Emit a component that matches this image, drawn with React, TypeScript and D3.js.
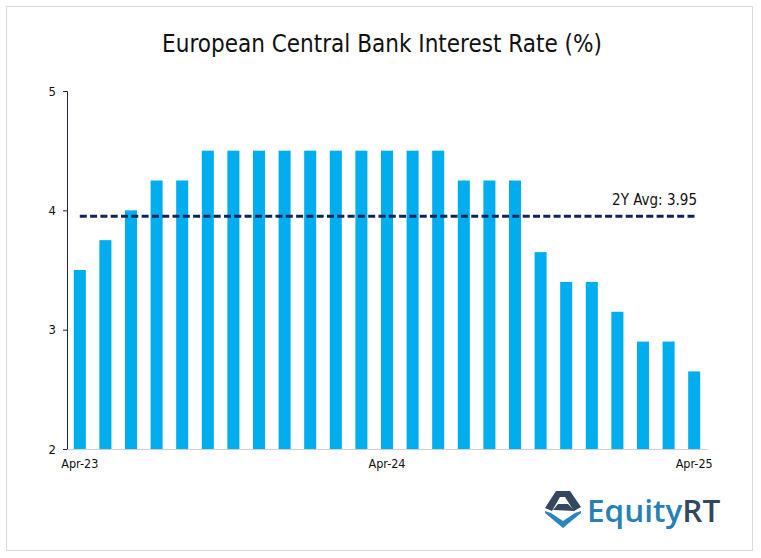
import * as d3 from "d3";
import * as React from "react";

const months = [
  "Apr-23", "May-23", "Jun-23", "Jul-23", "Aug-23", "Sep-23", "Oct-23", "Nov-23", "Dec-23",
  "Jan-24", "Feb-24", "Mar-24", "Apr-24", "May-24", "Jun-24", "Jul-24", "Aug-24", "Sep-24",
  "Oct-24", "Nov-24", "Dec-24", "Jan-25", "Feb-25", "Mar-25", "Apr-25",
];
const rates = [
  3.5, 3.75, 4, 4.25, 4.25, 4.5, 4.5, 4.5, 4.5, 4.5, 4.5, 4.5, 4.5, 4.5, 4.5, 4.25, 4.25, 4.25,
  3.65, 3.4, 3.4, 3.15, 2.9, 2.9, 2.65,
];
const xLabels = ["Apr-23", "Apr-24", "Apr-25"];
const yTicks = [2, 3, 4, 5];
const average = 3.95;

const font = "'DejaVu Sans Condensed', 'DejaVu Sans', sans-serif";

export default function App() {
  const width = 761;
  const height = 558;
  const svgRef = React.useRef<SVGSVGElement>(null);

  React.useEffect(() => {
    const svgElement = svgRef.current;
    if (svgElement == null) return;
    const svg = d3.select(svgElement);
    svg.selectAll("*").remove();

    const x = d3.scaleBand<string>().domain(months).range([67, 707]).paddingInner(0.53).paddingOuter(0.265);
    const y = d3.scaleLinear().domain([2, 5]).range([449, 91]);

    svg
      .append("rect")
      .attr("x", 6.5)
      .attr("y", 6.5)
      .attr("width", 746)
      .attr("height", 544)
      .attr("fill", "#fff")
      .attr("stroke", "#d9d9d9");

    svg
      .append("text")
      .attr("x", 382)
      .attr("y", 52)
      .attr("text-anchor", "middle")
      .attr("font-family", font)
      .attr("font-size", 24)
      .attr("fill", "#111")
      .text("European Central Bank Interest Rate (%)");

    svg
      .append("g")
      .selectAll("rect")
      .data(rates)
      .join("rect")
      .attr("x", (_, i) => x(months[i]) ?? 0)
      .attr("y", (d) => y(d))
      .attr("width", x.bandwidth())
      .attr("height", (d) => y(2) - y(d))
      .attr("fill", "#00aeef");

    const yAxis = svg
      .append("g")
      .attr("transform", "translate(67,0)")
      .call(d3.axisLeft(y).tickValues(yTicks).tickFormat(d3.format("d")).tickSize(4).tickSizeOuter(4));
    yAxis.select(".domain").attr("stroke", "#1a2440");
    yAxis.selectAll(".tick line").attr("stroke", "#1a2440");
    yAxis
      .selectAll("text")
      .attr("font-family", font)
      .attr("font-size", 13)
      .attr("fill", "#111")
      .attr("x", -11);

    const xAxis = svg
      .append("g")
      .attr("transform", "translate(0,449)")
      .call(
        d3
          .axisBottom(x)
          .tickValues(xLabels)
          .tickSize(0)
          .tickPadding(10)
      );
    xAxis.select(".domain").attr("stroke", "#d0d0d0");
    xAxis
      .selectAll("text")
      .attr("font-family", font)
      .attr("font-size", 12.5)
      .attr("fill", "#111");

    // avg line runs a little past the last bar's centre
    const lineGenerator = d3
      .line<string>()
      .x((d, i) => (x(d) ?? 0) + x.bandwidth() / 2 + (i === 0 ? 0 : 3))
      .y(() => y(average));
    svg
      .append("path")
      .attr("d", lineGenerator([months[0], months[months.length - 1]]))
      .attr("fill", "none")
      .attr("stroke", "#0f2557")
      .attr("stroke-width", 3)
      .attr("stroke-dasharray", "7 3.3");

    svg
      .append("text")
      .attr("x", 697)
      .attr("y", 205)
      .attr("text-anchor", "end")
      .attr("font-family", font)
      .attr("font-size", 15)
      .attr("fill", "#111")
      .text(`2Y Avg: ${average}`);

    // logo
    const logo = svg.append("g");
    logo
      .append("path")
      .attr("d", "M556 491 L570 491 L581 507 L574 511 L565 497 L560 497 L552 511 L545 508 Z")
      .attr("fill", "#33475f");
    logo
      .append("path")
      .attr("d", "M553 510 L558 504 L568 504 L575 511 Z")
      .attr("fill", "#33475f");
    logo
      .append("path")
      .attr("d", "M545 511 L551 513 L563 521 L575 513 L581 511 L581 513 L563 528 L545 513 Z")
      .attr("fill", "#2a86bd");
    logo
      .append("text")
      .attr("x", 587)
      .attr("y", 522)
      .attr("font-family", "'Open Sans', sans-serif")
      .attr("font-size", 31.5)
      .attr("font-weight", 600)
      .attr("fill", "#2a7fb5")
      .text("Equity")
      .append("tspan")
      .attr("fill", "#33475f")
      .text("RT");
  }, []);

  return (
    <svg
      ref={svgRef}
      width={width}
      height={height}
      viewBox={`0 0 ${width} ${height}`}
      style={{ position: "absolute", left: 0, top: 0 }}
    ></svg>
  );
}
